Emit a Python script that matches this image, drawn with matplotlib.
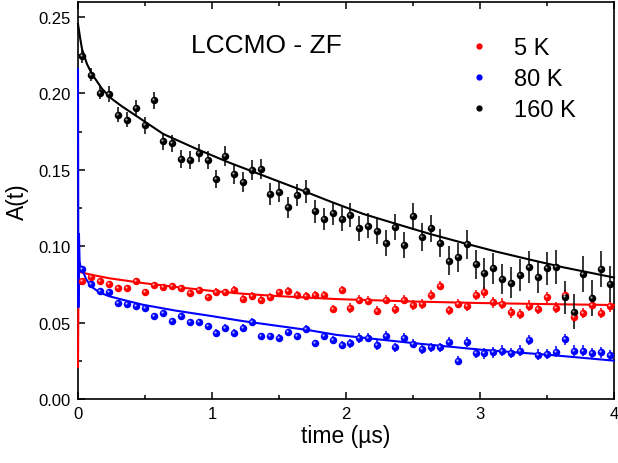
import numpy as np
import matplotlib
matplotlib.use("Agg")
import matplotlib.pyplot as plt
import matplotlib.transforms as mtransforms
from matplotlib.lines import Line2D
from matplotlib.ticker import MultipleLocator, FormatStrFormatter

plt.rcParams['font.family'] = ['Liberation Sans', 'DejaVu Sans']

# muon time bins (us), same grid for all three temperatures
t_points = (np.arange(60) + 0.5) / 15.0

a_160k = [0.2243, 0.2123, 0.2005, 0.1996, 0.1861, 0.1828, 0.1904, 0.1791, 0.1955, 0.1686,
          0.1673, 0.1569, 0.1562, 0.1608, 0.1566, 0.1440, 0.1592, 0.1474, 0.1420, 0.1499,
          0.1503, 0.1342, 0.1357, 0.1254, 0.1335, 0.1359, 0.1228, 0.1178, 0.1215, 0.1178,
          0.1204, 0.1117, 0.1134, 0.1102, 0.1021, 0.1123, 0.1010, 0.1195, 0.1060, 0.1117,
          0.1021, 0.0905, 0.0927, 0.1012, 0.0881, 0.0822, 0.0855, 0.0785, 0.0761, 0.0812,
          0.0866, 0.0798, 0.0855, 0.0864, 0.0665, 0.0572, 0.0818, 0.0661, 0.0851, 0.0753]
err_160k = [0.0045, 0.0045, 0.0045, 0.005, 0.005, 0.005, 0.005, 0.0055, 0.0055, 0.0055,
            0.0055, 0.006, 0.006, 0.006, 0.006, 0.006, 0.0065, 0.0065, 0.0065, 0.0065,
            0.0065, 0.007, 0.007, 0.007, 0.007, 0.0075, 0.0075, 0.0075, 0.0075, 0.008,
            0.008, 0.008, 0.008, 0.0085, 0.0085, 0.0085, 0.0085, 0.009, 0.009, 0.009,
            0.009, 0.0095, 0.0095, 0.0095, 0.0095, 0.010, 0.010, 0.010, 0.010, 0.0105,
            0.0105, 0.0105, 0.011, 0.011, 0.011, 0.0115, 0.0115, 0.0115, 0.012, 0.012]

a_5k = [0.0770, 0.0796, 0.0774, 0.0753, 0.0726, 0.0724, 0.0774, 0.0698, 0.0746, 0.0735,
        0.0737, 0.0726, 0.0696, 0.0713, 0.0668, 0.0702, 0.0698, 0.0713, 0.0654, 0.0672,
        0.0650, 0.0668, 0.0698, 0.0709, 0.0679, 0.0674, 0.0683, 0.0679, 0.0589, 0.0715,
        0.0596, 0.0650, 0.0644, 0.0578, 0.0650, 0.0589, 0.0650, 0.0615, 0.0622, 0.0681,
        0.0742, 0.0580, 0.0624, 0.0607, 0.0681, 0.0698, 0.0633, 0.0624, 0.0567, 0.0556,
        0.0611, 0.0591, 0.0666, 0.0598, 0.0681, 0.0539, 0.0563, 0.0617, 0.0563, 0.0607]
err_5k = [0.002] * 15 + [0.0025] * 15 + [0.003] * 15 + [0.0035] * 15

a_80k = [0.0851, 0.0753, 0.0709, 0.0698, 0.0628, 0.0620, 0.0607, 0.0596, 0.0541, 0.0563,
         0.0508, 0.0541, 0.0502, 0.0506, 0.0480, 0.0430, 0.0467, 0.0430, 0.0467, 0.0502,
         0.0410, 0.0410, 0.0401, 0.0436, 0.0410, 0.0458, 0.0364, 0.0414, 0.0386, 0.0356,
         0.0364, 0.0399, 0.0401, 0.0353, 0.0414, 0.0338, 0.0399, 0.0362, 0.0327, 0.0338,
         0.0338, 0.0373, 0.0251, 0.0373, 0.0301, 0.0299, 0.0306, 0.0316, 0.0301, 0.0316,
         0.0386, 0.0290, 0.0295, 0.0310, 0.0391, 0.0316, 0.0316, 0.0301, 0.0306, 0.0288]
err_80k = [0.002] * 15 + [0.0025] * 15 + [0.003] * 15 + [0.0035] * 15

# fit curves
fit_t_5k = [0.0, 0.004, 0.01, 0.022, 0.11, 0.234, 0.483, 0.731, 0.98, 1.229, 1.478,
            1.726, 1.925, 2.5, 3.0, 3.5, 4.0]
fit_5k = [0.021, 0.082, 0.083, 0.0829, 0.0811, 0.079, 0.0759, 0.0733, 0.0709, 0.0689,
          0.0674, 0.0663, 0.0654, 0.0638, 0.0628, 0.0621, 0.0615]

fit_t_80k = [0.0, 0.003, 0.007, 0.012, 0.02, 0.04, 0.06, 0.097, 0.159, 0.234, 0.358,
             0.483, 0.731, 0.98, 1.229, 1.478, 1.726, 1.925, 2.5, 3.0, 3.5, 4.0]
fit_80k = [0.216, 0.060, 0.108, 0.090, 0.086, 0.083, 0.0785, 0.0737, 0.0698, 0.0672,
           0.0644, 0.0617, 0.0578, 0.0545, 0.051, 0.048, 0.045, 0.042, 0.0366, 0.0323,
           0.029, 0.0251]

fit_t_160k = [0.0, 0.015, 0.03, 0.067, 0.104, 0.18, 0.254, 0.328, 0.388, 0.637, 0.886,
              1.134, 1.383, 1.632, 1.881, 2.129, 2.378, 2.627, 2.876, 3.124, 3.373,
              3.62, 3.87, 4.0]
fit_160k = [0.2454, 0.2367, 0.229, 0.2192, 0.2127, 0.2029, 0.1963, 0.1915, 0.188, 0.1734,
            0.1636, 0.1545, 0.1462, 0.1379, 0.1293, 0.1211, 0.1145, 0.108, 0.1021, 0.0964,
            0.0912, 0.0862, 0.0818, 0.0795]

labels = ['5 K', '80 K', '160 K']
colors = ['#ff0000', '#0000ff', '#000000']
highlights = ['#ffb0b0', '#b0b0ff', '#a0a0a0']

fig = plt.figure(figsize=(6.18, 4.64), dpi=100)
ax = fig.add_axes([78 / 618, 64 / 464, 536 / 618, 397 / 464])

# fit lines (drawn over the left spine, like the fast initial wiggle in the original)
ax.plot(fit_t_5k, fit_5k, color=colors[0], lw=1.5, zorder=2.6, clip_on=False)
ax.plot(fit_t_80k, fit_80k, color=colors[1], lw=1.5, zorder=2.7, clip_on=False)
ax.plot(fit_t_160k, fit_160k, color=colors[2], lw=1.5, zorder=2.8, clip_on=False)

# data with error bars, plus a small highlight to mimic sphere symbols
hl = mtransforms.offset_copy(ax.transData, fig=fig, x=-1.0, y=1.0, units='dots')
for y, e, c, h in [(a_5k, err_5k, colors[0], highlights[0]),
                   (a_80k, err_80k, colors[1], highlights[1]),
                   (a_160k, err_160k, colors[2], highlights[2])]:
    ax.errorbar(t_points, y, yerr=e, fmt='o', color=c, ms=5.4, mew=0,
                elinewidth=1.1, capsize=0, zorder=3)
    ax.plot(t_points, y, 'o', color=h, ms=1.6, mew=0, transform=hl, zorder=4)

ax.set_xlim(0, 4)
ax.set_ylim(0, 0.2598)
ax.xaxis.set_major_locator(MultipleLocator(1))
ax.xaxis.set_minor_locator(MultipleLocator(0.5))
ax.yaxis.set_major_locator(MultipleLocator(0.05))
ax.yaxis.set_minor_locator(MultipleLocator(0.025))
ax.yaxis.set_major_formatter(FormatStrFormatter('%.2f'))
ax.tick_params(which='both', direction='in', top=True, right=False, width=1.1,
               labelsize=12)
ax.tick_params(which='major', length=5, pad=5)
ax.tick_params(which='minor', length=3)
for s in ax.spines.values():
    s.set_linewidth(1.2)

ax.set_xlabel('time (µs)', fontsize=16.5, labelpad=2)
ax.set_ylabel('A(t)', fontsize=16.5, labelpad=7)

ax.text(0.2108, 0.874, 'LCCMO - ZF', transform=ax.transAxes, fontsize=19,
        va='baseline', ha='left')

handles = [Line2D([], [], ls='none', marker='o', color=c, ms=4.5, mew=0) for c in colors]
ax.legend(handles, labels, loc='upper left', bbox_to_anchor=(0.726, 0.912),
          frameon=False, fontsize=17, handlelength=1.0, handletextpad=1.0,
          labelspacing=0.38, borderpad=0, borderaxespad=0)

fig.savefig('out.png', dpi=100)
